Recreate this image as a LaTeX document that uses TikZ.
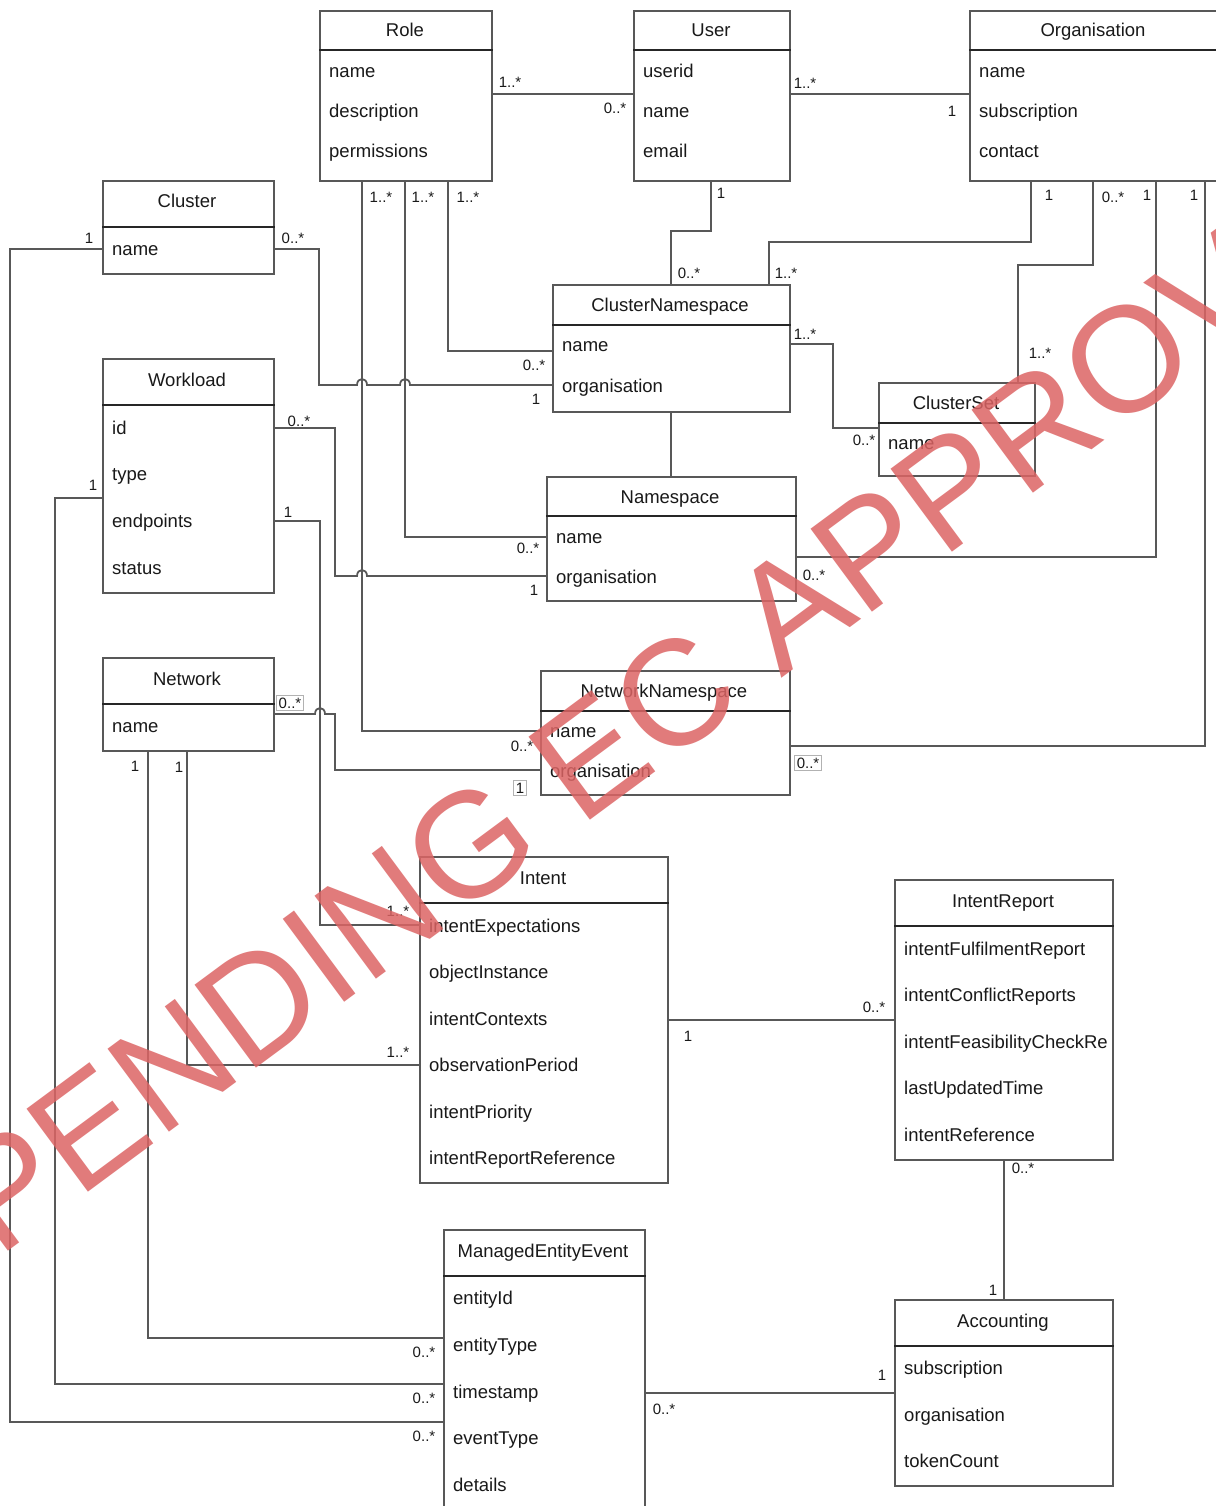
\documentclass[tikz,border=0pt]{standalone}
\usepackage{fontspec}
\setmainfont{Liberation Sans}
\definecolor{lc}{RGB}{88,88,88}
\definecolor{tc}{RGB}{25,25,25}
\definecolor{wm}{RGB}{220,100,100}
\begin{document}
\begin{tikzpicture}[x=1pt,y=-1pt,
  cls/.style={draw=lc, line width=1.8pt, fill=white, inner sep=0pt, anchor=north west},
  sepl/.style={draw=black!85, line width=1.6pt},
  hdr/.style={font=\fontsize{18.5}{22}\selectfont, text=tc, inner sep=0pt, anchor=base, yshift=-6.5pt},
  att/.style={font=\fontsize{18.5}{22}\selectfont, text=tc, inner sep=0pt, anchor=base west, yshift=-6.5pt},
  mult/.style={font=\fontsize{15}{17}\selectfont, text=tc, inner sep=1pt},
  boxed/.style={mult, draw=black!30, line width=0.8pt, fill=white, inner sep=2pt},
  conn/.style={draw=lc, line width=1.8pt},
  hop/.style 2 args={insert path={-- ({#1-5},#2) .. controls ({#1-5},{#2-8}) and ({#1+5},{#2-8}) .. ({#1+5},#2)}},
  wmk/.style={font=\fontsize{150}{150}\selectfont, text=wm, text opacity=0.85, inner sep=0pt, rotate=36.5},
]
\fill[white] (0,0) rectangle (1215,1506);
\useasboundingbox (0,0) rectangle (1215,1506);

% ---------- class boxes ----------
\node[cls, minimum width=172pt, minimum height=170pt] (role) at (319,10) {};
\node[cls, minimum width=156pt, minimum height=170pt] (user) at (633,10) {};
\node[cls, minimum width=249pt, minimum height=170pt] (org) at (969,10) {};
\node[cls, minimum width=171pt, minimum height=93pt] (cluster) at (102,180) {};
\node[cls, minimum width=171pt, minimum height=234pt] (workload) at (102,358) {};
\node[cls, minimum width=171pt, minimum height=93pt] (network) at (102,657) {};
\node[cls, minimum width=237pt, minimum height=127pt] (clusterns) at (552,284) {};
\node[cls, minimum width=156pt, minimum height=93pt] (clusterset) at (878,382) {};
\node[cls, minimum width=249pt, minimum height=124pt] (namespace) at (546,476) {};
\node[cls, minimum width=249pt, minimum height=124pt] (networkns) at (540,670) {};
\node[cls, minimum width=248pt, minimum height=326pt] (intent) at (419,856) {};
\node[cls, minimum width=218pt, minimum height=280pt] (intentreport) at (894,879) {};
\node[cls, minimum width=218pt, minimum height=186pt] (accounting) at (894,1299) {};
\node[cls, minimum width=201pt, minimum height=300pt] (mee) at (443,1229) {};

% header separators
\draw[sepl] (role.west |- 0,50) -- (role.east |- 0,50);
\draw[sepl] (user.west |- 0,50) -- (user.east |- 0,50);
\draw[sepl] (org.west |- 0,50) -- (org.east |- 0,50);
\draw[sepl] (cluster.west |- 0,227) -- (cluster.east |- 0,227);
\draw[sepl] (workload.west |- 0,405) -- (workload.east |- 0,405);
\draw[sepl] (network.west |- 0,704) -- (network.east |- 0,704);
\draw[sepl] (clusterns.west |- 0,325) -- (clusterns.east |- 0,325);
\draw[sepl] (clusterset.west |- 0,423) -- (clusterset.east |- 0,423);
\draw[sepl] (namespace.west |- 0,516) -- (namespace.east |- 0,516);
\draw[sepl] (networkns.west |- 0,711) -- (networkns.east |- 0,711);
\draw[sepl] (intent.west |- 0,903) -- (intent.east |- 0,903);
\draw[sepl] (intentreport.west |- 0,926) -- (intentreport.east |- 0,926);
\draw[sepl] (accounting.west |- 0,1346) -- (accounting.east |- 0,1346);
\draw[sepl] (mee.west |- 0,1276) -- (mee.east |- 0,1276);

% titles
\node[hdr] (roleT) at (405,30) {Role};
\node[hdr] (userT) at (711,30) {User};
\node[hdr] (orgT) at (1093,30) {Organisation};
\node[hdr] (clusterT) at (187,201) {Cluster};
\node[hdr] (workloadT) at (187,380) {Workload};
\node[hdr] (networkT) at (187,679) {Network};
\node[hdr] (clusternsT) at (670,305) {ClusterNamespace};
\node[hdr] (clustersetT) at (956,403) {ClusterSet};
\node[hdr] (namespaceT) at (670,497) {Namespace};
\node[hdr] (networknsT) at (664,691) {NetworkNamespace};
\node[hdr] (intentT) at (543,878) {Intent};
\node[hdr] (intentreportT) at (1003,901) {IntentReport};
\node[hdr] (accountingT) at (1003,1321) {Accounting};
\node[hdr] (meeT) at (543,1251) {ManagedEntityEvent};

% attributes
\node[att] (roleA1) at (329,71) {name};
\node[att] (roleA2) at (329,111) {description};
\node[att] (roleA3) at (329,151) {permissions};
\node[att] (userA1) at (643,71) {userid};
\node[att] (userA2) at (643,111) {name};
\node[att] (userA3) at (643,151) {email};
\node[att] (orgA1) at (979,71) {name};
\node[att] (orgA2) at (979,111) {subscription};
\node[att] (orgA3) at (979,151) {contact};
\node[att] (clusterA1) at (112,249) {name};
\node[att] (workloadA1) at (112,428) {id};
\node[att] (workloadA2) at (112,474) {type};
\node[att] (workloadA3) at (112,521) {endpoints};
\node[att] (workloadA4) at (112,568) {status};
\node[att] (networkA1) at (112,726) {name};
\node[att] (clusternsA1) at (562,345) {name};
\node[att] (clusternsA2) at (562,386) {organisation};
\node[att] (clustersetA1) at (888,443) {name};
\node[att] (namespaceA1) at (556,537) {name};
\node[att] (namespaceA2) at (556,577) {organisation};
\node[att] (networknsA1) at (550,731) {name};
\node[att] (networknsA2) at (550,771) {organisation};
\node[att] (intentA1) at (429,926) {intentExpectations};
\node[att] (intentA2) at (429,972) {objectInstance};
\node[att] (intentA3) at (429,1019) {intentContexts};
\node[att] (intentA4) at (429,1065) {observationPeriod};
\node[att] (intentA5) at (429,1112) {intentPriority};
\node[att] (intentA6) at (429,1158) {intentReportReference};
\node[att] (irA1) at (904,949) {intentFulfilmentReport};
\node[att] (irA2) at (904,995) {intentConflictReports};
\begin{scope}
\clip (895,1020) rectangle (1106,1065);
\node[att] (irA3) at (904,1042) {intentFeasibilityCheckReport};
\end{scope}
\node[att] (irA4) at (904,1088) {lastUpdatedTime};
\node[att] (irA5) at (904,1135) {intentReference};
\node[att] (accA1) at (904,1368) {subscription};
\node[att] (accA2) at (904,1415) {organisation};
\node[att] (accA3) at (904,1461) {tokenCount};
\node[att] (meeA1) at (453,1298) {entityId};
\node[att] (meeA2) at (453,1345) {entityType};
\node[att] (meeA3) at (453,1392) {timestamp};
\node[att] (meeA4) at (453,1438) {eventType};
\node[att] (meeA5) at (453,1485) {details};

% ---------- connectors ----------
\draw[conn] (role.east |- 0,94) -- (user.west |- 0,94);
\draw[conn] (user.east |- 0,94) -- (org.west |- 0,94);
\draw[conn] (role.south -| 448,0) -- (448,351) -- (clusterns.west |- 0,351);
\draw[conn] (role.south -| 405,0) -- (405,537) -- (namespace.west |- 0,537);
\draw[conn] (role.south -| 362,0) -- (362,731) -- (networkns.west |- 0,731);
\draw[conn] (cluster.east |- 0,249) -- (319,249) -- (319,385) [hop={362}{385}] [hop={405}{385}] -- (clusterns.west |- 0,385);
\draw[conn] (cluster.west |- 0,249) -- (10,249) -- (10,1422) -- (mee.west |- 0,1422);
\draw[conn] (workload.east |- 0,428) -- (335,428) -- (335,576) [hop={362}{576}] -- (namespace.west |- 0,576);
\draw[conn] (workload.east |- 0,521) -- (320,521) -- (320,925) -- (intent.west |- 0,925);
\draw[conn] (workload.west |- 0,498) -- (55,498) -- (55,1384) -- (mee.west |- 0,1384);
\draw[conn] (network.east |- 0,714) [hop={320}{714}] -- (335,714) -- (335,770) -- (networkns.west |- 0,770);
\draw[conn] (network.south -| 187,0) -- (187,1065) -- (intent.west |- 0,1065);
\draw[conn] (network.south -| 148,0) -- (148,1338) -- (mee.west |- 0,1338);
\draw[conn] (user.south -| 711,0) -- (711,231) -- (671,231) -- (clusterns.north -| 671,0);
\draw[conn] (org.south -| 1031,0) -- (1031,242) -- (769,242) -- (clusterns.north -| 769,0);
\draw[conn] (org.south -| 1093,0) -- (1093,265) -- (1018,265) -- (clusterset.north -| 1018,0);
\draw[conn] (org.south -| 1156,0) -- (1156,557) -- (namespace.east |- 0,557);
\draw[conn] (org.south -| 1205,0) -- (1205,746) -- (networkns.east |- 0,746);
\draw[conn] (clusterns.east |- 0,344) -- (833,344) -- (833,428) -- (clusterset.west |- 0,428);
\draw[conn] (clusterns.south -| 671,0) -- (namespace.north -| 671,0);
\draw[conn] (intent.east |- 0,1020) -- (intentreport.west |- 0,1020);
\draw[conn] (intentreport.south -| 1004,0) -- (accounting.north -| 1004,0);
\draw[conn] (mee.east |- 0,1393) -- (accounting.west |- 0,1393);

% ---------- multiplicities ----------
\node[mult] (m1) at (510,82) {1..*};
\node[mult] (m2) at (615,108) {0..*};
\node[mult] (m3) at (805,83) {1..*};
\node[mult] (m4) at (952,111) {1};
\node[mult] (m5) at (381,197) {1..*};
\node[mult] (m6) at (423,197) {1..*};
\node[mult] (m7) at (468,197) {1..*};
\node[mult] (m8) at (534,365) {0..*};
\node[mult] (m9) at (528,548) {0..*};
\node[mult] (m10) at (522,746) {0..*};
\node[mult] (m11) at (293,238) {0..*};
\node[mult] (m12) at (536,399) {1};
\node[mult] (m13) at (89,238) {1};
\node[mult] (m14) at (424,1436) {0..*};
\node[mult] (m15) at (299,421) {0..*};
\node[mult] (m16) at (534,590) {1};
\node[mult] (m17) at (288,512) {1};
\node[mult] (m18) at (398,911) {1..*};
\node[mult] (m19) at (93,485) {1};
\node[mult] (m20) at (424,1398) {0..*};
\node[boxed] (m21) at (290,703) {0..*};
\node[boxed] (m22) at (520,788) {1};
\node[mult] (m23) at (179,767) {1};
\node[mult] (m24) at (398,1052) {1..*};
\node[mult] (m25) at (135,766) {1};
\node[mult] (m26) at (424,1352) {0..*};
\node[mult] (m27) at (721,193) {1};
\node[mult] (m28) at (689,273) {0..*};
\node[mult] (m29) at (1049,195) {1};
\node[mult] (m30) at (786,273) {1..*};
\node[mult] (m31) at (805,334) {1..*};
\node[mult] (m32) at (864,440) {0..*};
\node[mult] (m33) at (1113,197) {0..*};
\node[mult] (m34) at (1040,353) {1..*};
\node[mult] (m35) at (1147,195) {1};
\node[mult] (m36) at (814,575) {0..*};
\node[mult] (m37) at (1194,195) {1};
\node[boxed] (m38) at (808,763) {0..*};
\node[mult] (m39) at (688,1036) {1};
\node[mult] (m40) at (874,1007) {0..*};
\node[mult] (m41) at (1023,1168) {0..*};
\node[mult] (m42) at (993,1290) {1};
\node[mult] (m43) at (664,1409) {0..*};
\node[mult] (m44) at (882,1375) {1};

% ---------- watermark ----------
\node[wmk] (watermark) at (680,690) {PENDING EC APPROVAL};
\end{tikzpicture}
\end{document}
